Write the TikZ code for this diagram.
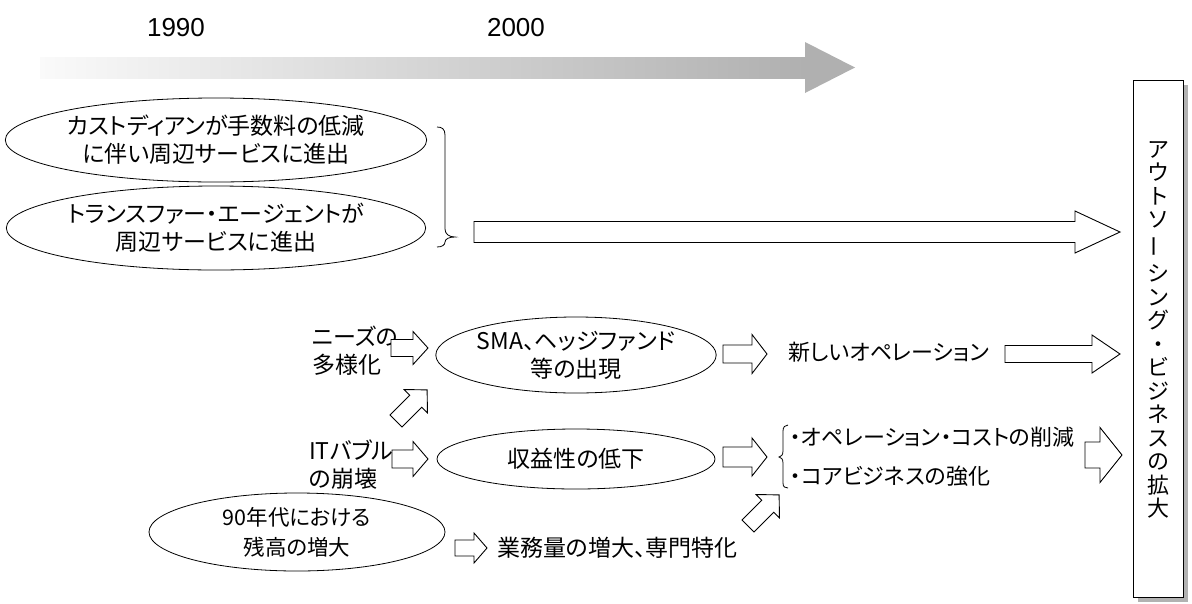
\documentclass[tikz,border=0pt]{standalone}
\usepackage{fontspec}
\usepackage{graphicx}
\setmainfont{Noto Sans CJK JP}[RawFeature=+palt]
\newfontfamily\vertfont{Noto Sans CJK JP}
\newfontfamily\latinfont{Liberation Sans}
\usetikzlibrary{shapes.geometric}
\begin{document}
\begin{tikzpicture}[x=1pt,y=-1pt,
  txt/.style={font=\fontsize{23}{28}\selectfont, inner sep=0pt, align=left},
  oval/.style={draw, ellipse, line width=0.8pt, inner sep=0pt, font=\fontsize{23}{28}\selectfont, align=center},
  barrow/.style={draw, line width=0.9pt, fill=white, line join=miter},
  bracepath/.style={draw, line width=0.8pt},
  year/.style={font=\latinfont\fontsize{26}{26}\selectfont, inner sep=0pt},
  pics/blockarrow/.style args={#1/#2/#3/#4}{code={
    \path[barrow] (0,-#2/2) -- (#1-#4,-#2/2) -- (#1-#4,-#3/2) -- (#1,0)
      -- (#1-#4,#3/2) -- (#1-#4,#2/2) -- (0,#2/2) -- cycle;}}
]
\useasboundingbox (0,0) rectangle (1192,603);

% timeline
\node[year] (y1990) at (176,28) {1990};
\node[year] (y2000) at (516,28) {2000};
\shade[left color=black!2, right color=black!31] (40,57) rectangle (806,78);
\fill[black!31] (805,42) -- (855,67.5) -- (805,93) -- cycle;

% outcome box
\fill[black!30] (1138,85) rectangle (1188,602);
\node[draw, fill=white, line width=0.8pt, minimum width=50, minimum height=517, inner sep=0pt] (box) at (1158,338.5) {};
\node[font=\vertfont\fontsize{22}{23.5}\selectfont, align=center, inner sep=0pt] (boxtxt) at (1158,330)
  {ア\\ウ\\ト\\ソ\\\rotatebox[origin=c]{90}{ー}\\[7pt]シ\\ン\\グ\\・\\ビ\\ジ\\ネ\\ス\\の\\拡\\大};

% top ellipses
\node[oval, minimum width=410, minimum height=84] (e1) at (216,140) {カストディアンが手数料の低減\\に伴い周辺サービスに進出};
\node[oval, minimum width=410, minimum height=84] (e2) at (216,228) {トランスファー・エージェントが\\周辺サービスに進出};
\path[bracepath] (437,127) .. controls (442,127) and (445,129) .. (445,135) -- (445,229)
  .. controls (445,234) and (449,237) .. (455,237)
  .. controls (449,237) and (445,239) .. (445,242)
  .. controls (445,245) and (442,247) .. (437,247);
\pic at (474,232) {blockarrow=646/21/42/45};

% middle row
\node[txt, anchor=west] (needs) at (312,351) {ニーズの\\多様化};
\pic at (391,348) {blockarrow=37/17/33/15};
\node[oval, minimum width=278, minimum height=76] (sma) at (576,355) {SMA、ヘッジファンド\\等の出現};
\pic at (723,354) {blockarrow=44/18/39/15};
\node[txt, anchor=west, font=\fontsize{22}{28}\selectfont] (newop) at (788,352) {新しいオペレーション};
\pic at (1005,354) {blockarrow=115/17/38/28};

\pic[rotate=45] at (396,421) {blockarrow=44/17/33/16};

% lower row
\node[txt, anchor=west] (it) at (309,465) {ITバブル\\の崩壊};
\pic at (392,459) {blockarrow=36/18/35/15};
\node[oval, minimum width=278, minimum height=60] (prof) at (576,459) {収益性の低下};
\pic at (723,457) {blockarrow=44/20/38/15};
\path[bracepath] (788,425) .. controls (785,425) and (783,427) .. (783,431) -- (783,451)
  .. controls (783,455) and (781,457) .. (779,457)
  .. controls (781,457) and (783,459) .. (783,463) -- (783,483)
  .. controls (783,487) and (785,488) .. (788,488);
\node[txt, anchor=west, font=\fontsize{22}{39}\selectfont] (cost) at (790,457) {・オペレーション・コストの削減\\・コアビジネスの強化};
\pic at (1085,455) {blockarrow=37/26/55/22};

% bottom row
\node[oval, minimum width=296, minimum height=78, font=\fontsize{21.5}{30}\selectfont] (e90) at (297,532) {90年代における\\残高の増大};
\pic at (455,548) {blockarrow=32/16/30/13};
\node[txt, anchor=west] (work) at (497,548) {業務量の増大、専門特化};
\pic[rotate=45] at (748,526) {blockarrow=44/17/33/16};
\end{tikzpicture}
\end{document}
